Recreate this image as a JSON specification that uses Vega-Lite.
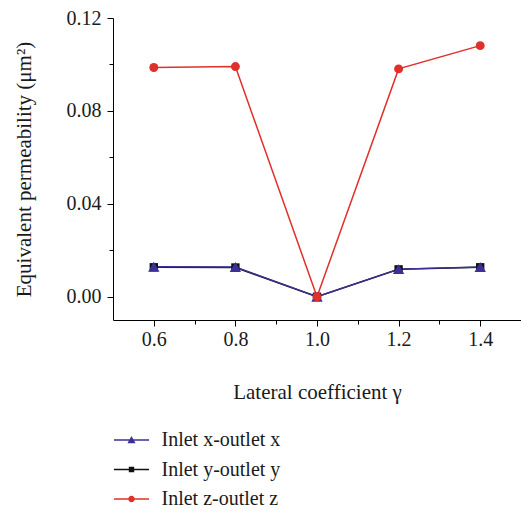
{
  "$schema": "https://vega.github.io/schema/vega-lite/v6.json",
  "width": 408,
  "height": 302,
  "autosize": {"type": "none"},
  "padding": {"left": 113, "top": 18, "right": 0, "bottom": 193},
  "background": "white",
  "config": {
    "view": {"stroke": null},
    "font": "Liberation Serif",
    "axis": {
      "labelFont": "Liberation Serif",
      "titleFont": "Liberation Serif",
      "labelFontSize": 20,
      "titleFontSize": 21,
      "titleFontWeight": "normal",
      "labelColor": "#1a1a1a",
      "titleColor": "#1a1a1a",
      "domainColor": "#000000",
      "tickColor": "#000000",
      "domainWidth": 1,
      "tickWidth": 1,
      "grid": false,
      "labelFlush": false,
      "labelOverlap": false
    }
  },
  "data": {
    "values": [
      {"gamma": 0.6, "k": 0.0127, "series": "Inlet y-outlet y"},
      {"gamma": 0.8, "k": 0.0126, "series": "Inlet y-outlet y"},
      {"gamma": 1.0, "k": 0.0, "series": "Inlet y-outlet y"},
      {"gamma": 1.2, "k": 0.0118, "series": "Inlet y-outlet y"},
      {"gamma": 1.4, "k": 0.0127, "series": "Inlet y-outlet y"},
      {"gamma": 0.6, "k": 0.0129, "series": "Inlet x-outlet x"},
      {"gamma": 0.8, "k": 0.0128, "series": "Inlet x-outlet x"},
      {"gamma": 1.0, "k": 0.0, "series": "Inlet x-outlet x"},
      {"gamma": 1.2, "k": 0.0119, "series": "Inlet x-outlet x"},
      {"gamma": 1.4, "k": 0.0128, "series": "Inlet x-outlet x"},
      {"gamma": 0.6, "k": 0.0987, "series": "Inlet z-outlet z"},
      {"gamma": 0.8, "k": 0.0991, "series": "Inlet z-outlet z"},
      {"gamma": 1.0, "k": 0.0, "series": "Inlet z-outlet z"},
      {"gamma": 1.2, "k": 0.0981, "series": "Inlet z-outlet z"},
      {"gamma": 1.4, "k": 0.1081, "series": "Inlet z-outlet z"}
    ]
  },
  "encoding": {
    "x": {
      "field": "gamma",
      "type": "quantitative",
      "scale": {"domain": [0.5, 1.5], "nice": false, "zero": false},
      "axis": {
        "title": "Lateral coefficient γ",
        "values": [0.6, 0.7, 0.8, 0.9, 1.0, 1.1, 1.2, 1.3, 1.4],
        "labelExpr": "round(datum.value*10)%2==0 ? format(datum.value,'.1f') : ''",
        "tickSize": {"condition": {"test": "round(datum.value*10)%2!=0", "value": 4}, "value": 6},
        "labelPadding": 3,
        "titlePadding": 32
      }
    },
    "y": {
      "field": "k",
      "type": "quantitative",
      "scale": {"domain": [-0.01, 0.12], "nice": false, "zero": false},
      "axis": {
        "title": "Equivalent permeability (μm²)",
        "values": [0, 0.02, 0.04, 0.06, 0.08, 0.1, 0.12],
        "labelExpr": "round(datum.value*100)%4==0 ? format(datum.value,'.2f') : ''",
        "tickSize": {"condition": {"test": "round(datum.value*100)%4!=0", "value": 4}, "value": 6},
        "labelPadding": 6,
        "titlePadding": 32
      }
    },
    "color": {
      "field": "series",
      "type": "nominal",
      "scale": {
        "domain": ["Inlet x-outlet x", "Inlet y-outlet y", "Inlet z-outlet z"],
        "range": ["#3b3098", "#111111", "#e0302a"]
      },
      "legend": {
        "title": null,
        "orient": "none",
        "legendX": 8.5,
        "legendY": 412,
        "labelFont": "Liberation Serif",
        "labelFontSize": 20,
        "labelColor": "#1a1a1a",
        "symbolSize": 324,
        "labelOffset": 20,
        "rowPadding": 9.5,
        "encode": {
          "symbols": {
            "update": {
              "shape": {"signal": "datum.value === 'Inlet x-outlet x' ? 'M-1.95,-0.07H1.95V0.07H-1.95Z M0,-0.45L0.45,0.35L-0.45,0.35Z' : datum.value === 'Inlet y-outlet y' ? 'M-1.95,-0.07H1.95V0.07H-1.95Z M-0.3,-0.3H0.3V0.3H-0.3Z' : 'M-1.95,-0.07H1.95V0.07H-1.95Z M-0.36,0A0.36,0.36 0 1,1 0.36,0A0.36,0.36 0 1,1 -0.36,0Z'"},
              "fill": {"scale": "color", "field": "value"},
              "stroke": {"value": "transparent"},
              "strokeWidth": {"value": 0},
              "opacity": {"value": 1}
            }
          }
        }
      }
    }
  },
  "layer": [
    {"mark": {"type": "line", "strokeWidth": 1.5}},
    {
      "transform": [{"filter": "datum.series === 'Inlet y-outlet y'"}],
      "mark": {"type": "point", "shape": "square", "filled": true, "size": 70, "opacity": 1}
    },
    {
      "transform": [{"filter": "datum.series === 'Inlet x-outlet x'"}],
      "mark": {"type": "point", "shape": "triangle-up", "filled": true, "size": 130, "opacity": 1}
    },
    {
      "transform": [{"filter": "datum.series === 'Inlet z-outlet z'"}],
      "mark": {"type": "point", "shape": "circle", "filled": true, "size": 80, "opacity": 1}
    }
  ]
}
